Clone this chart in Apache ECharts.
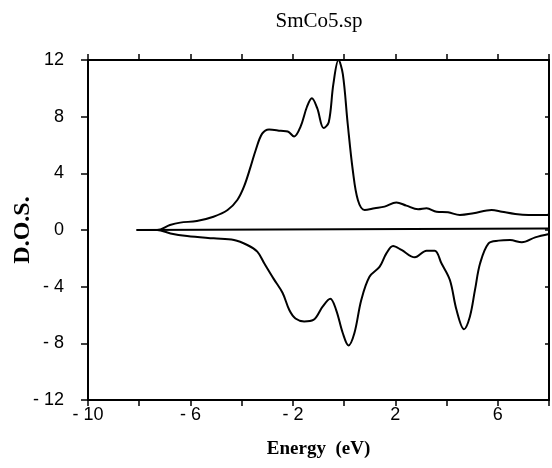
<!DOCTYPE html>
<html>
<head>
<meta charset="utf-8">
<script src="https://cdn.jsdelivr.net/npm/echarts@6/dist/echarts.min.js"></script>
<style>
  html, body { margin: 0; padding: 0; background: #fff; }
  #chart { width: 552px; height: 468px; }
</style>
</head>
<body>
<div id="chart"></div>
<script>
  // spin up / spin down D.O.S.
  const spinUp = [
    [-8.1, 0], [-7.3, 0], [-6.8, 0.35], [-6.4, 0.52], [-5.75, 0.64], [-5.1, 0.94],
    [-4.55, 1.41], [-4.17, 2.12], [-3.91, 3.06], [-3.65, 4.47], [-3.45, 5.65],
    [-3.2, 6.8], [-2.93, 7.1], [-2.47, 7.0], [-2.2, 6.95], [-1.95, 6.6],
    [-1.7, 7.3], [-1.45, 8.7], [-1.26, 9.3], [-1.05, 8.6], [-0.8, 7.2],
    [-0.6, 7.6], [-0.42, 10.3], [-0.22, 12.0], [-0.05, 11.0], [0.14, 7.5],
    [0.34, 4.2], [0.54, 2.1], [0.8, 1.41], [1.19, 1.53], [1.58, 1.65],
    [2.04, 1.95], [2.43, 1.72], [2.89, 1.46], [3.22, 1.53], [3.61, 1.29],
    [4.06, 1.25], [4.52, 1.06], [5.05, 1.18], [5.76, 1.41], [6.16, 1.29],
    [6.68, 1.13], [7.2, 1.06], [7.95, 1.06], [8, 1.2]
  ];
  const spinDown = [
    [-8.1, 0], [-7.3, 0], [-6.78, -0.24], [-6.13, -0.42], [-5.09, -0.59],
    [-4.3, -0.71], [-3.78, -1.06], [-3.39, -1.53], [-3.12, -2.35], [-2.75, -3.45],
    [-2.4, -4.45], [-2.14, -5.65], [-1.9, -6.25], [-1.56, -6.45], [-1.2, -6.35],
    [-0.84, -5.41], [-0.54, -4.85], [-0.31, -5.65], [-0.05, -7.29], [0.17, -8.15],
    [0.4, -7.29], [0.67, -4.94], [0.99, -3.3], [1.39, -2.59], [1.65, -1.65],
    [1.91, -1.13], [2.24, -1.41], [2.76, -1.93], [3.22, -1.46], [3.54, -1.46],
    [3.8, -2.35], [4.13, -3.53], [4.39, -5.65], [4.68, -7.0], [4.91, -6.12],
    [5.11, -4.23], [5.31, -2.35], [5.64, -0.94], [6.03, -0.75], [6.48, -0.71],
    [6.94, -0.87], [7.46, -0.52], [8.0, -0.28]
  ];
  const zeroLine = [[-8.1, 0], [8, 0.1]];

  const xMin = -10, xMax = 8, yMin = -12, yMax = 12;

  function dashLabel(v) {
    return v < 0 ? '- ' + Math.abs(v) : String(v);
  }

  const axisLine = { show: true, onZero: false, lineStyle: { color: '#000', width: 2 } };
  const tickStyle = { lineStyle: { color: '#000', width: 1.5 } };

  const chart = echarts.init(document.getElementById('chart'));
  chart.setOption({
    backgroundColor: '#fff',
    animation: false,
    title: {
      text: 'SmCo5.sp',
      left: 314, top: 6, textAlign: 'center',
      textStyle: { fontFamily: 'Liberation Serif', fontSize: 21, fontWeight: 'normal', color: '#000' }
    },
    grid: { left: 88, right: 3, top: 60, bottom: 68, outerBoundsMode: 'none', containLabel: false },
    xAxis: [{
      type: 'value', min: xMin, max: xMax, interval: 2,
      name: 'Energy  (eV)', nameLocation: 'middle', nameGap: 40, nameMoveOverlap: false,
      nameTextStyle: { fontFamily: 'Liberation Serif', fontSize: 19, fontWeight: 'bold', color: '#000' },
      axisLine: axisLine,
      axisTick: Object.assign({ show: true, length: 6 }, tickStyle),
      axisLabel: {
        color: '#000', fontFamily: 'Liberation Sans', fontSize: 18, margin: 6,
        formatter: function (v) { return ((v - xMin) % 4 === 0) ? dashLabel(v) : ''; }
      },
      splitLine: { show: false }
    }, {
      type: 'value', min: xMin, max: xMax, interval: 2, position: 'top',
      axisLine: axisLine,
      axisTick: Object.assign({ show: true, length: 6 }, tickStyle),
      axisLabel: { show: false },
      splitLine: { show: false }
    }],
    yAxis: [{
      type: 'value', min: yMin, max: yMax, interval: 4,
      name: 'D.O.S.', nameLocation: 'middle', nameGap: 53, nameRotate: 90, nameMoveOverlap: false,
      nameTextStyle: { fontFamily: 'Liberation Serif', fontSize: 24, fontWeight: 'bold', color: '#000' },
      axisLine: axisLine,
      axisTick: Object.assign({ show: true, length: 7 }, tickStyle),
      axisLabel: {
        color: '#000', fontFamily: 'Liberation Sans', fontSize: 18, margin: 24,
        formatter: dashLabel
      },
      splitLine: { show: false }
    }, {
      type: 'value', min: yMin, max: yMax, interval: 4, position: 'right',
      axisLine: axisLine,
      axisTick: Object.assign({ show: true, inside: true, length: 4 }, tickStyle),
      axisLabel: { show: false },
      splitLine: { show: false }
    }],
    series: [{
      name: 'up', type: 'line', data: spinUp, smooth: 0.35, symbol: 'none',
      lineStyle: { color: '#000', width: 2 }
    }, {
      name: 'down', type: 'line', data: spinDown, smooth: 0.35, symbol: 'none',
      lineStyle: { color: '#000', width: 2 }
    }, {
      name: 'zero', type: 'line', data: zeroLine, symbol: 'none',
      lineStyle: { color: '#000', width: 2 }
    }]
  });
</script>
</body>
</html>
